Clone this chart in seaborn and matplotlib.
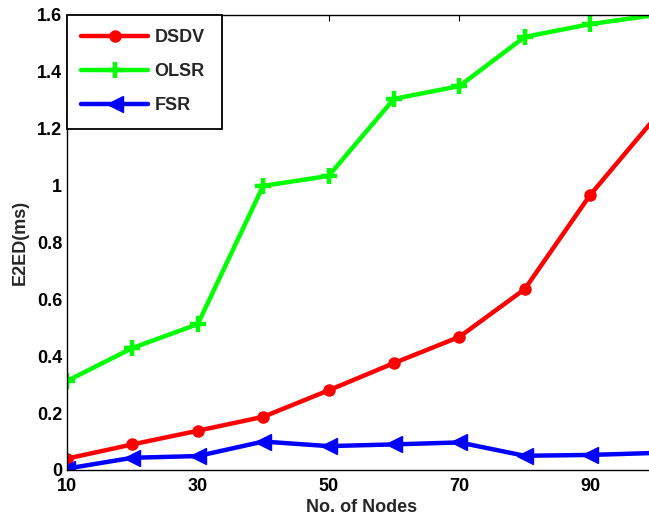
import matplotlib
matplotlib.use("Agg")
import matplotlib.pyplot as plt
import seaborn as sns
import pandas as pd

nodes = [10, 20, 30, 40, 50, 60, 70, 80, 90, 100]
dsdv = [0.04, 0.09, 0.138, 0.187, 0.28, 0.376, 0.468, 0.636, 0.967, 1.24]
olsr = [0.313, 0.429, 0.513, 0.999, 1.034, 1.305, 1.35, 1.523, 1.568, 1.60]
fsr = [0.005, 0.043, 0.049, 0.10, 0.084, 0.09, 0.097, 0.05, 0.053, 0.06]
protocols = ["DSDV", "OLSR", "FSR"]
x_ticks = [10, 30, 50, 70, 90]
y_ticks = [0, 0.2, 0.4, 0.6, 0.8, 1, 1.2, 1.4, 1.6]
y_tick_labels = ["0", "0.2", "0.4", "0.6", "0.8", "1", "1.2", "1.4", "1.6"]

df = pd.DataFrame({
    "nodes": nodes * 3,
    "delay": dsdv + olsr + fsr,
    "protocol": [p for p in protocols for _ in nodes],
})

sns.set_style("white")
plt.rcParams["font.family"] = ["Liberation Sans", "DejaVu Sans"]
plt.rcParams["font.weight"] = "bold"

fig = plt.figure(figsize=(6.49, 5.16), dpi=100)
ax = fig.add_axes([67 / 649, 1 - 470 / 516, (655.5 - 67) / 649, (470 - 15) / 516])

palette = {"DSDV": "#ff0000", "OLSR": "#00ff00", "FSR": "#0000ff"}
markers = {"DSDV": "o", "OLSR": "P", "FSR": "<"}
sns.lineplot(data=df, x="nodes", y="delay", hue="protocol", style="protocol",
             palette=palette, markers=markers, dashes=False, linewidth=3.2,
             markersize=8, ax=ax)

sizes = {"DSDV": 8, "OLSR": 11, "FSR": 11}


def style_line(line, p):
    line.set_markeredgecolor(palette[p])
    line.set_markerfacecolor(palette[p])
    line.set_markersize(sizes[p])
    if p == "OLSR":
        line.set_marker("+")
        line.set_markeredgewidth(3.2)
    else:
        line.set_markeredgewidth(1)


for line, p in zip(ax.get_lines()[:3], protocols):
    style_line(line, p)

ax.set_xlim(10, 100)
ax.set_ylim(0, 1.6)
ax.set_xticks(x_ticks)
ax.set_xticklabels([str(t) for t in x_ticks], fontsize=13, fontweight="bold")
ax.set_yticks(y_ticks)
ax.set_yticklabels(y_tick_labels, fontsize=13, fontweight="bold")
ax.tick_params(direction="in", length=4, width=0.8, top=True, right=True,
               colors="black")
ax.tick_params(axis="x", pad=6)
ax.tick_params(axis="y", pad=3.5)
ax.set_xlabel("No. of Nodes", fontsize=13, fontweight="bold", labelpad=3)
ax.set_ylabel("E2ED(ms)", fontsize=13, fontweight="bold", labelpad=6)
for s in ax.spines.values():
    s.set_color("black")
    s.set_linewidth(1)

handles, labels = ax.get_legend_handles_labels()
legend_w = (222 - 67) / (655.5 - 67)
leg = ax.legend(handles, labels, loc="upper left", mode="expand",
                bbox_to_anchor=(0, 1, legend_w, 0), borderaxespad=0,
                fancybox=False, edgecolor="black", framealpha=1,
                handlelength=3.7, handletextpad=0.35, labelspacing=0.94,
                borderpad=0.8, prop={"weight": "bold", "size": 13})
leg.get_frame().set_linewidth(1.3)
for h, p in zip(leg.legend_handles, protocols):
    style_line(h, p)

fig.savefig("out.png", dpi=100)
